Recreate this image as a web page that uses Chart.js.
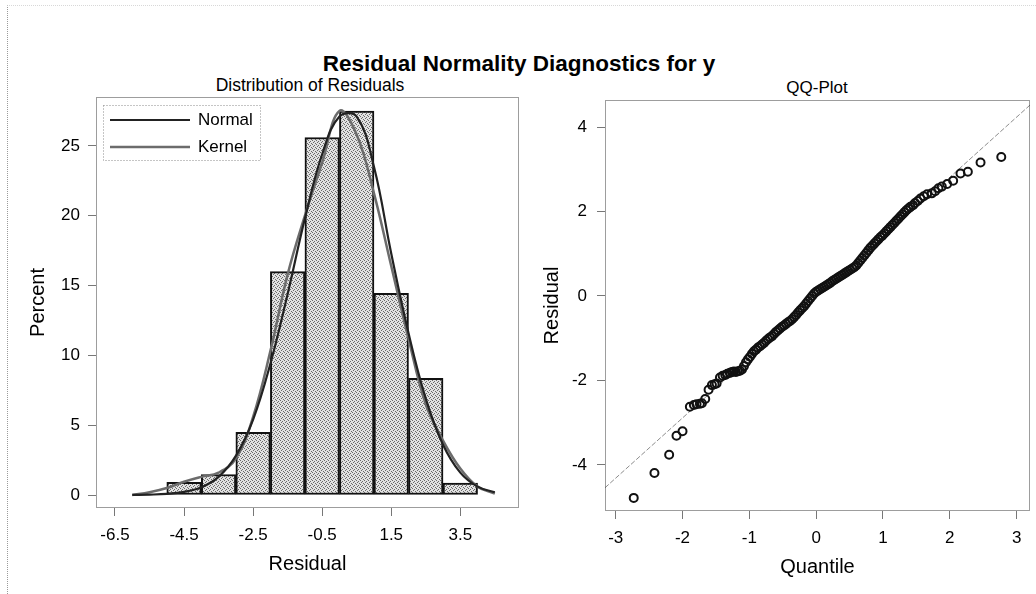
<!DOCTYPE html>
<html>
<head>
<meta charset="utf-8">
<title>Residual Normality Diagnostics for y</title>
<script src="https://cdn.jsdelivr.net/npm/chart.js@4.4.1/dist/chart.umd.min.js"></script>
<style>
  html, body { margin: 0; padding: 0; background: #fff; }
  body { width: 1036px; height: 594px; position: relative; overflow: hidden;
         font-family: "Liberation Sans", Arial, sans-serif; color: #000; }
  .ttl { position: absolute; white-space: nowrap; transform: translate(-50%, -50%); }
  #mainTitle { left: 519px; top: 64px; font-size: 22.5px; font-weight: bold; }
  #histTitle { left: 310px; top: 85px; font-size: 17.5px; }
  #qqTitle { left: 817px; top: 88px; font-size: 17px; }
  #histChart { position: absolute; left: 0; top: 0; }
  #qqChart { position: absolute; left: 525px; top: 0; }
  #edge { position: absolute; left: 7px; top: 5px; right: 0; bottom: 0;
          border-left: 1px dotted #9a9a9a; border-top: 1px dotted #d8d8d8; }
</style>
</head>
<body>
<div id="edge"></div>
<div class="ttl" id="mainTitle">Residual Normality Diagnostics for y</div>
<div class="ttl" id="histTitle">Distribution of Residuals</div>
<div class="ttl" id="qqTitle">QQ-Plot</div>
<canvas id="histChart" width="525" height="594"></canvas>
<canvas id="qqChart" width="511" height="594"></canvas>
<script>
// histogram: bin midpoints and percent of residuals per bin
const binMid = [-4.5, -3.5, -2.5, -1.5, -0.5, 0.5, 1.5, 2.5, 3.5];
const binPct = [0.9, 1.47, 4.48, 16.0, 25.6, 27.5, 14.45, 8.35, 0.85];

// fitted density curves (percent scale)
const curveX = [-6.0, -5.5, -5.0, -4.5, -4.0, -3.5, -3.0, -2.5, -2.0, -1.5, -1.0, -0.5,
                0.0, 0.5, 1.0, 1.5, 2.0, 2.5, 3.0, 3.5, 4.0, 4.5];
const normalPct = [0.01, 0.03, 0.08, 0.22, 0.55, 1.3, 2.8, 5.4, 9.4, 14.4, 19.8, 24.4,
                   27.1, 27.1, 23.5, 17.3, 11.6, 6.9, 3.6, 1.6, 0.6, 0.2];
const kernelPct = [0.0, 0.2, 0.5, 0.95, 1.3, 1.6, 2.6, 5.6, 10.3, 15.8, 20.0, 23.8,
                   27.5, 25.8, 21.6, 16.4, 11.2, 6.5, 3.9, 1.9, 0.6, 0.1];

const histXTicks = [-6.5, -4.5, -2.5, -0.5, 1.5, 3.5];
const histYTicks = [0, 5, 10, 15, 20, 25];

// QQ plot: normal quantile vs residual
const qqQuantile = [
  -2.73, -2.42, -2.20, -2.09, -2.00, -1.89, -1.83, -1.79, -1.74, -1.71, -1.66, -1.61, -1.56, -1.52, -1.49,
  -1.44, -1.40, -1.36, -1.33, -1.29,
  -1.26, -1.23, -1.20, -1.17, -1.14, -1.11, -1.08, -1.05, -1.02, -0.99, -0.96, -0.93, -0.90, -0.87, -0.84,
  -0.81, -0.78, -0.75, -0.72, -0.69, -0.66, -0.63, -0.60, -0.57, -0.54, -0.51, -0.48, -0.45, -0.42, -0.39,
  -0.36, -0.33, -0.30, -0.27, -0.24, -0.21, -0.18, -0.15, -0.12, -0.09, -0.06, -0.03, 0.00, 0.03, 0.06,
  0.09, 0.12, 0.15, 0.18, 0.21, 0.24, 0.27, 0.30, 0.33, 0.36, 0.39, 0.42, 0.45, 0.48, 0.51,
  0.54, 0.57, 0.60, 0.63, 0.66, 0.69, 0.72, 0.75, 0.78, 0.81, 0.84, 0.87, 0.90, 0.93, 0.96,
  0.99, 1.02, 1.05, 1.08, 1.11, 1.14, 1.17, 1.20, 1.23, 1.26, 1.29, 1.32, 1.35, 1.38,
  1.41, 1.45, 1.48, 1.52, 1.56, 1.61, 1.66, 1.73, 1.78, 1.83, 1.88, 1.96, 2.05, 2.16, 2.27, 2.46, 2.77
];
const qqResidual = [
  -4.78, -4.19, -3.76, -3.31, -3.20, -2.62, -2.58, -2.56, -2.55, -2.54, -2.44, -2.22, -2.11, -2.09, -2.07,
  -1.93, -1.89, -1.87, -1.84, -1.82,
  -1.80, -1.79, -1.80, -1.78, -1.77, -1.74, -1.66, -1.57, -1.50, -1.44, -1.37, -1.31, -1.27, -1.22, -1.19,
  -1.15, -1.11, -1.06, -1.02, -0.98, -0.95, -0.90, -0.85, -0.81, -0.77, -0.73, -0.70, -0.66, -0.62, -0.59,
  -0.55, -0.50, -0.45, -0.39, -0.34, -0.29, -0.24, -0.18, -0.12, -0.06, 0.00, 0.06, 0.10, 0.13, 0.16,
  0.19, 0.22, 0.25, 0.28, 0.31, 0.35, 0.38, 0.41, 0.44, 0.47, 0.50, 0.53, 0.56, 0.59, 0.62,
  0.65, 0.68, 0.72, 0.78, 0.84, 0.90, 0.96, 1.02, 1.08, 1.14, 1.19, 1.24, 1.29, 1.34, 1.39,
  1.43, 1.48, 1.53, 1.58, 1.63, 1.68, 1.73, 1.78, 1.83, 1.88, 1.93, 1.98, 2.03, 2.07,
  2.11, 2.15, 2.20, 2.25, 2.31, 2.36, 2.41, 2.43, 2.48, 2.55, 2.59, 2.65, 2.73, 2.90, 2.94, 3.16, 3.29
];
// reference line end points
const qqLineX = [-3.16, 3.20];
const qqLineY = [-4.54, 4.52];

const qqXTicks = [-3, -2, -1, 0, 1, 2, 3];
const qqYTicks = [-4, -2, 0, 2, 4];

Chart.defaults.font.family = '"Liberation Sans", Arial, sans-serif';
Chart.defaults.font.size = 17;
Chart.defaults.color = '#000';
Chart.defaults.animation = false;

// halftone-like fill for the bars
function stipple() {
    const c = document.createElement('canvas');
    c.width = 4; c.height = 4;
    const g = c.getContext('2d');
    g.fillStyle = '#e2e2e2';
    g.fillRect(0, 0, 4, 4);
    g.fillStyle = '#6a6a6a';
    g.fillRect(0, 0, 1, 1);
    g.fillRect(2, 1, 1, 1);
    g.fillRect(1, 2, 1, 1);
    g.fillRect(3, 3, 1, 1);
    return g.createPattern(c, 'repeat');
}

// dotted box round the plot area
const framePlugin = {
    id: 'frame',
    afterDraw(chart) {
        const {ctx, chartArea: a} = chart;
        ctx.save();
        ctx.strokeStyle = '#3a3a3a';
        ctx.lineWidth = 1;
        ctx.setLineDash([1, 1]);
        ctx.strokeRect(Math.round(a.left) + 0.5, Math.round(a.top) + 0.5,
                       Math.round(a.width) - 1, Math.round(a.height) - 1);
        ctx.restore();
    }
};

// legend for the two curves, top-left inside the plot
const curveLegend = {
    id: 'curveLegend',
    afterDraw(chart) {
        const {ctx, chartArea: a} = chart;
        const x = Math.round(a.left) + 7, y = Math.round(a.top) + 8;
        ctx.save();
        ctx.strokeStyle = '#8a8a8a';
        ctx.lineWidth = 1;
        ctx.setLineDash([1, 2]);
        ctx.strokeRect(x + 0.5, y + 0.5, 157, 55);
        ctx.setLineDash([]);
        ctx.font = '17px "Liberation Sans", Arial, sans-serif';
        ctx.textBaseline = 'middle';
        chart.data.datasets.filter(d => d.type === 'line').forEach((d, i) => {
            const ly = y + 15 + i * 27;
            ctx.strokeStyle = d.borderColor;
            ctx.lineWidth = d.borderWidth;
            ctx.beginPath();
            ctx.moveTo(x + 7, ly);
            ctx.lineTo(x + 87, ly);
            ctx.stroke();
            ctx.fillStyle = '#000';
            ctx.fillText(d.label, x + 95, ly);
        });
        ctx.restore();
    }
};

// outside tick marks only, no grid lines in the plot
const tickGrid = {drawOnChartArea: false, drawTicks: true, tickLength: 8, color: '#777', lineWidth: 1, offset: false};

// Distribution of Residuals
const histChart = new Chart(document.getElementById('histChart'), {
    type: 'bar',
    data: {
        datasets: [
            {
                type: 'line',
                label: 'Normal',
                data: curveX.map((x, i) => ({x: x, y: normalPct[i]})),
                borderColor: '#222',
                borderWidth: 2.2,
                pointRadius: 0,
                tension: 0.4,
                order: 0
            },
            {
                type: 'line',
                label: 'Kernel',
                data: curveX.map((x, i) => ({x: x, y: kernelPct[i]})),
                borderColor: '#6c6c6c',
                borderWidth: 2.5,
                pointRadius: 0,
                tension: 0.4,
                order: 1
            },
            {
                label: 'Percent',
                data: binMid.map((x, i) => ({x: x, y: binPct[i]})),
                backgroundColor: stipple(),
                borderColor: '#111',
                borderWidth: 2,
                borderSkipped: false,
                barPercentage: 1,
                categoryPercentage: 1,
                order: 2
            }
        ]
    },
    options: {
        responsive: false,
        layout: {padding: {top: 97, right: 6, left: 0, bottom: 0}},
        plugins: {legend: {display: false}, tooltip: {enabled: false}},
        scales: {
            x: {
                type: 'linear',
                offset: false,
                min: -7.05, max: 5.2,
                grid: tickGrid,
                border: {display: false},
                ticks: {padding: 9, maxRotation: 0, callback: v => v.toFixed(1)},
                title: {display: true, text: 'Residual', font: {size: 20}, padding: {top: 0, bottom: 18}},
                afterBuildTicks: s => { s.ticks = histXTicks.map(v => ({value: v})); },
                afterFit: s => { s.height = 86; s.paddingLeft = 0; s.paddingRight = 0; }
            },
            y: {
                min: -0.93, max: 28.5,
                grid: tickGrid,
                border: {display: false},
                ticks: {padding: 8, callback: v => String(v)},
                title: {display: true, text: 'Percent', font: {size: 20}, padding: {top: 26, bottom: 0}},
                afterBuildTicks: s => { s.ticks = histYTicks.map(v => ({value: v})); },
                afterFit: s => { s.width = 96; s.paddingTop = 0; s.paddingBottom = 0; }
            }
        }
    },
    plugins: [framePlugin, curveLegend]
});

// QQ-Plot
const qqChart = new Chart(document.getElementById('qqChart'), {
    type: 'scatter',
    data: {
        datasets: [
            {
                label: 'Residual',
                data: qqQuantile.map((q, i) => ({x: q, y: qqResidual[i]})),
                pointStyle: 'circle',
                pointRadius: 4,
                borderWidth: 2,
                borderColor: '#111',
                backgroundColor: 'rgba(0,0,0,0)',
                order: 0
            },
            {
                type: 'line',
                label: 'Reference',
                data: qqLineX.map((x, i) => ({x: x, y: qqLineY[i]})),
                borderColor: '#8c8c8c',
                borderWidth: 1,
                borderDash: [5, 2],
                pointRadius: 0,
                order: 1
            }
        ]
    },
    options: {
        responsive: false,
        layout: {padding: {top: 100, right: 6, left: 0, bottom: 0}},
        plugins: {legend: {display: false}, tooltip: {enabled: false}},
        scales: {
            x: {
                type: 'linear',
                min: -3.16, max: 3.2,
                grid: tickGrid,
                border: {display: false},
                ticks: {padding: 9, maxRotation: 0, callback: v => String(v)},
                title: {display: true, text: 'Quantile', font: {size: 20}, padding: {top: 0, bottom: 15}},
                afterBuildTicks: s => { s.ticks = qqXTicks.map(v => ({value: v})); },
                afterFit: s => { s.height = 83; s.paddingLeft = 0; s.paddingRight = 0; }
            },
            y: {
                min: -5.09, max: 4.64,
                grid: tickGrid,
                border: {display: false},
                ticks: {padding: 10, callback: v => String(v)},
                title: {display: true, text: 'Residual', font: {size: 20}, padding: {top: 15, bottom: 0}},
                afterBuildTicks: s => { s.ticks = qqYTicks.map(v => ({value: v})); },
                afterFit: s => { s.width = 80; s.paddingTop = 0; s.paddingBottom = 0; }
            }
        }
    },
    plugins: [framePlugin]
});
</script>
</body>
</html>
